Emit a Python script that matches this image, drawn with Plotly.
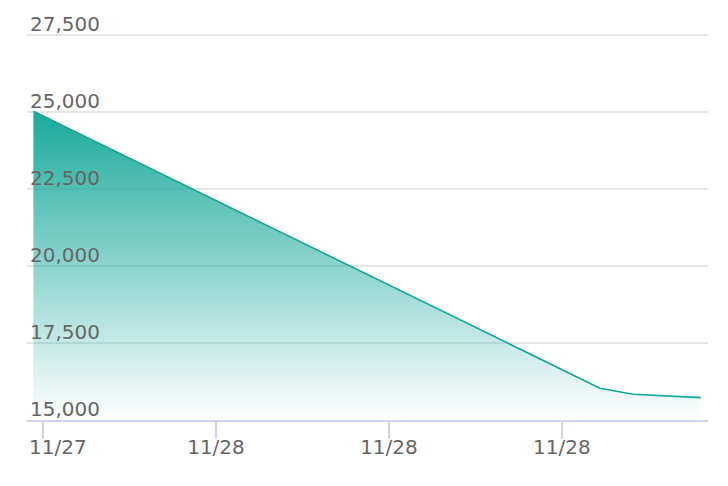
import plotly.graph_objects as go

# Data
times = ["2023-11-27 17:40", "2023-11-28 13:19", "2023-11-28 14:28", "2023-11-28 16:49"]
values = [25030, 16034, 15838, 15727]

tick_times = ["2023-11-27 18:00", "2023-11-28 00:00", "2023-11-28 06:00", "2023-11-28 12:00"]
tick_labels = ["11/27", "11/28", "11/28", "11/28"]
y_ticks = [15000, 17500, 20000, 22500, 25000, 27500]

teal = "26,170,156"

fig = go.Figure()
fig.add_trace(go.Scatter(
    x=times, y=values, mode="lines",
    line=dict(color="#14a698", width=1.6),
    fill="tozeroy",
    fillgradient=dict(
        type="vertical",
        colorscale=[[0, f"rgba({teal},0)"], [1, f"rgba({teal},1)"]],
        start=15000, stop=25030,
    ),
    hoverinfo="skip",
))

# first label is shifted right (kept inside the chart), the rest sit on their ticks
axis_text = [""] + tick_labels[1:]
fig.add_annotation(
    x=tick_times[0], y=0, xref="x", yref="paper",
    text=tick_labels[0], showarrow=False,
    xanchor="left", yanchor="middle", xshift=-16, yshift=-27,
    font=dict(family="DejaVu Sans", size=20, color="#666666"),
)

fig.update_layout(
    width=720, height=478,
    margin=dict(l=19, r=20, t=26, b=66),
    plot_bgcolor="white", paper_bgcolor="white",
    showlegend=False,
    font=dict(family="DejaVu Sans", size=20, color="#666666"),
)
fig.update_xaxes(
    range=["2023-11-27 17:26:42", "2023-11-28 17:04"],
    tickvals=tick_times, ticktext=axis_text,
    showgrid=False, showline=True, linecolor="#ccd6eb", linewidth=2,
    ticks="outside", ticklen=17, tickcolor="#ccd6eb", tickwidth=2,
    ticklabeloverflow="allow", ticklabelstandoff=-9, automargin=False,
    tickfont=dict(size=20, color="#666666"),
)
fig.update_yaxes(
    range=[15000, 27540],
    tickvals=y_ticks, tickformat=",d",
    showgrid=True, gridcolor="#e6e6e6", gridwidth=1.5,
    zeroline=False, showline=False, automargin=False,
    ticklabelposition="inside top", ticklabeloverflow="allow",
    ticklabelshift=3,
    tickfont=dict(size=20, color="#666666"),
)

fig.write_html("out.html")
